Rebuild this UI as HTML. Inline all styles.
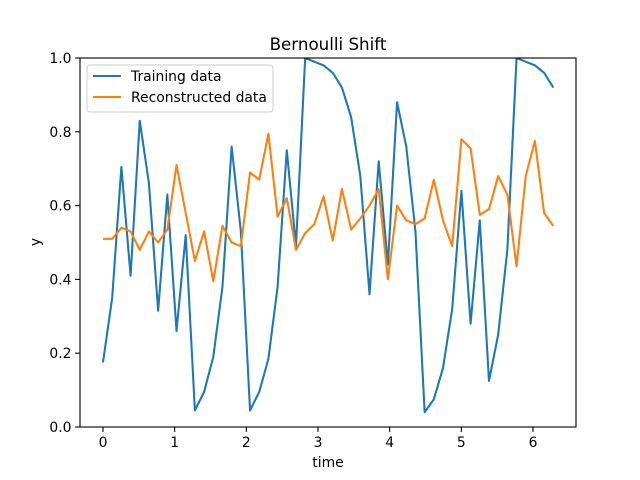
<!DOCTYPE html>
<html><head><meta charset="utf-8"><style>body{margin:0;background:#fff}svg{display:block;font-family:"DejaVu Sans","Liberation Sans",sans-serif}</style></head>
<body>
<svg id="chart" width="640" height="480">
<rect x="0" y="0" width="640" height="480" fill="#fff"/>
<g id="plot"></g>
</svg>
<script>
const training = [0.175,0.35,0.705,0.41,0.83,0.66,0.315,0.63,0.26,0.52,0.045,0.095,0.19,0.38,0.76,0.53,0.045,0.095,0.185,0.38,0.75,0.49,1.0,0.99,0.98,0.96,0.92,0.84,0.68,0.36,0.72,0.44,0.88,0.76,0.53,0.04,0.075,0.16,0.32,0.64,0.28,0.56,0.125,0.25,0.48,1.0,0.99,0.98,0.96,0.92];
const reconstructed = [0.51,0.51,0.54,0.53,0.48,0.53,0.50,0.535,0.71,0.58,0.45,0.53,0.395,0.545,0.50,0.49,0.69,0.67,0.795,0.57,0.62,0.48,0.525,0.55,0.625,0.505,0.645,0.535,0.565,0.60,0.645,0.40,0.60,0.56,0.55,0.565,0.67,0.56,0.49,0.78,0.755,0.575,0.59,0.68,0.63,0.435,0.68,0.775,0.58,0.545];
const xTicks = [0,1,2,3,4,5,6];
const yTicks = [0.0,0.2,0.4,0.6,0.8,1.0];
const times = training.map((_, i) => i * 2 * Math.PI / (training.length - 1));

const L=80,R=576,T=58,B=427;
const X=v=>103+v*(533-103)/6;
const Y=v=>B-v*(B-T);
const NS='http://www.w3.org/2000/svg';
const g=document.getElementById('plot');
function mk(tag,attrs,parent){const e=document.createElementNS(NS,tag);for(const k in attrs)e.setAttribute(k,attrs[k]);(parent||g).appendChild(e);return e;}

const clip=mk('clipPath',{id:'c'});mk('rect',{x:L,y:T,width:R-L,height:B-T},clip);
const lg=mk('g',{'clip-path':'url(#c)'});
{
  const p1=mk('polyline',{points:training.map((v,i)=>X(times[i]).toFixed(2)+','+Y(v).toFixed(2)).join(' '),fill:'none',stroke:'#1f77b4','stroke-width':2.08,'stroke-linejoin':'round'},lg);
  
  
  const p2=mk('polyline',{points:reconstructed.map((v,i)=>X(times[i]).toFixed(2)+','+Y(v).toFixed(2)).join(' '),fill:'none',stroke:'#ff7f0e','stroke-width':2.08,'stroke-linejoin':'round'},lg);
  
  
}
const frame=mk('rect',{x:L,y:T,width:R-L,height:B-T,fill:'none',stroke:'#000','stroke-width':1.1});


xTicks.forEach(t=>{
  const tl=mk('line',{x1:X(t),x2:X(t),y1:B,y2:B+4.9,stroke:'#000','stroke-width':1.1});
  
  
  const tx=mk('text',{x:X(t),y:B+20,'text-anchor':'middle','font-size':13.9,fill:'#000'});
  tx.textContent=String(t);
  
  
});
yTicks.forEach(t=>{
  const tl=mk('line',{x1:L-4.9,x2:L,y1:Y(t),y2:Y(t),stroke:'#000','stroke-width':1.1});
  
  
  const tx=mk('text',{x:L-8.5,y:Y(t)+5,'text-anchor':'end','font-size':13.9,fill:'#000'});
  tx.textContent=t.toFixed(1);
  
  
});
const title=mk('text',{x:(L+R)/2,y:50,'text-anchor':'middle','font-size':16.7,fill:'#000'});
title.textContent='Bernoulli Shift';


const xl=mk('text',{x:(L+R)/2,y:467,'text-anchor':'middle','font-size':13.9,fill:'#000'});
xl.textContent='time';


const yl=mk('text',{x:0,y:0,'text-anchor':'middle','font-size':13.9,fill:'#000',transform:'translate(40,242) rotate(-90)'});
yl.textContent='y';


const leg=mk('g',{});


mk('rect',{x:87,y:65,width:186,height:47,rx:3,fill:'#fff','fill-opacity':0.8,stroke:'#ccc','stroke-width':1},leg);
[['Training data','#1f77b4',76],['Reconstructed data','#ff7f0e',97]].forEach(([n,c,y])=>{
  const l=mk('line',{x1:93,x2:121,y1:y,y2:y,stroke:c,'stroke-width':2.08},leg);
  
  
  const t=mk('text',{x:131,y:y+5,'font-size':13.9,fill:'#000'},leg);
  t.textContent=n;
  
  
});
</script>
</body></html>
